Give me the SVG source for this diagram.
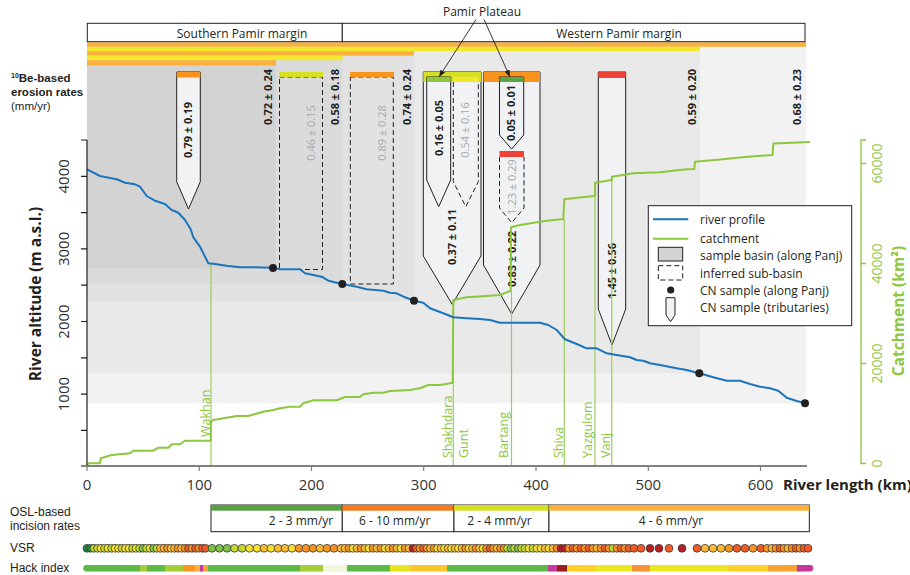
<svg xmlns="http://www.w3.org/2000/svg" width="910" height="575" viewBox="0 0 910 575">
<defs>
<style>
.os{font-family:"Open Sans","Noto Sans","Liberation Sans",sans-serif}
.ls{font-family:"Liberation Sans",Arial,sans-serif}
.num{font-family:"Open Sans","Liberation Sans",sans-serif;font-size:11px;font-weight:bold;fill:#231f20;text-anchor:middle}
.gnum{font-family:"Open Sans","Liberation Sans",sans-serif;font-size:11px;fill:#a7a9ac;text-anchor:middle}
.pen{fill:#f1f2f3;stroke:#231f20;stroke-width:1}
.dpen{fill:#f1f2f3;stroke:#231f20;stroke-width:1;stroke-dasharray:5 3}
.dbox{fill:none;stroke:#231f20;stroke-width:1;stroke-dasharray:5 3}
.trib{stroke:#9ccc5c;stroke-width:1.2;fill:none}
.tlab{font-family:"Open Sans","Noto Sans",sans-serif;font-size:12.5px;fill:#8dc63f}
.tick{font-family:"Open Sans","Noto Sans",sans-serif;font-size:15px;fill:#333;text-anchor:middle}
.gtick{font-family:"Open Sans","Noto Sans",sans-serif;font-size:14px;fill:#8dc63f;text-anchor:middle}
.leg{font-family:"Open Sans","Noto Sans",sans-serif;font-size:12px;fill:#231f20}
.osl{font-family:"Open Sans","Noto Sans",sans-serif;font-size:12px;fill:#231f20;text-anchor:middle}
.c1{fill:#1f8a3f}.c2{fill:#7dc242}.c3{fill:#c2d82e}.c4{fill:#f6e22b}.c5{fill:#fbb934}.c6{fill:#f7931e}.c7{fill:#f15a24}.c8{fill:#b71c27}
#vsr circle{r:3.9px;stroke:#3a3a3a;stroke-width:0.8}
</style>
<marker id="ah" viewBox="0 0 8 6" refX="8" refY="3" markerWidth="7" markerHeight="5.5" markerUnits="userSpaceOnUse" orient="auto">
<path d="M0,0 L8,3 L0,6 z" fill="#231f20"/>
</marker>
</defs>
<rect width="910" height="575" fill="#ffffff"/>

<!-- sample basins (along Panj) -->
<g id="basin5"><rect x="87" y="46.8" width="719" height="356.5" fill="#f2f2f2"/><rect x="87" y="42.3" width="719" height="4.5" fill="#fbb03b"/></g>
<g id="basin4"><rect x="87" y="51.2" width="613" height="322" fill="#e9e9e9"/><rect x="87" y="46.8" width="613" height="4.4" fill="#f3e82b"/></g>
<g id="basin3"><rect x="87" y="55.7" width="327" height="245" fill="#e2e2e2"/><rect x="87" y="51.2" width="327" height="4.5" fill="#fbb03b"/></g>
<g id="basin2"><rect x="87" y="60.2" width="255.5" height="224" fill="#dbdbdb"/><rect x="87" y="55.7" width="255.5" height="4.5" fill="#f3e82b"/></g>
<g id="basin1"><rect x="87" y="65.5" width="189" height="203" fill="#d3d3d3"/><rect x="87" y="60.2" width="189" height="5.3" fill="#fbb03b"/></g>

<!-- header -->
<g id="southern-margin"><rect x="87.3" y="23.3" width="255" height="18.4" fill="#fff" stroke="#231f20" stroke-width="1"/><text class="os" x="242" y="37.5" font-size="12" fill="#231f20" text-anchor="middle">Southern Pamir margin</text></g>
<g id="western-margin"><rect x="342.3" y="23.3" width="462.7" height="18.4" fill="#fff" stroke="#231f20" stroke-width="1"/><text class="os" x="619" y="37.5" font-size="12" fill="#231f20" text-anchor="middle">Western Pamir margin</text></g>

<!-- left header label -->
<g id="be-label" class="ls" fill="#231f20" font-size="11.5">
<text x="11" y="82" font-weight="bold"><tspan font-size="7" dy="-4">10</tspan><tspan dy="4">Be-based</tspan></text>
<text x="11" y="96" font-weight="bold">erosion rates</text>
<text x="11" y="110">(mm/yr)</text>
</g>

<!-- inferred sub-basins -->
<g id="sub-046"><rect x="279.5" y="77" width="43" height="192.5" class="dbox"/><rect x="279" y="72" width="44" height="5" fill="#d7df23"/><text class="gnum" transform="translate(311,133) rotate(-90)" dy="0.35em">0.46 ± 0.15</text></g>
<g id="sub-089"><rect x="350.3" y="77" width="43" height="207" class="dbox"/><rect x="350" y="72" width="44" height="5" fill="#f7941d"/><text class="gnum" transform="translate(382,133) rotate(-90)" dy="0.35em">0.89 ± 0.28</text></g>

<!-- basin value labels -->
<g id="basin-labels">
<text class="num" transform="translate(268,97) rotate(-90)" dy="0.35em">0.72 ± 0.24</text>
<text class="num" transform="translate(335.5,97) rotate(-90)" dy="0.35em">0.58 ± 0.18</text>
<text class="num" transform="translate(407.5,97) rotate(-90)" dy="0.35em">0.74 ± 0.24</text>
<text class="num" transform="translate(692,97) rotate(-90)" dy="0.35em">0.59 ± 0.20</text>
<text class="num" transform="translate(796.7,97) rotate(-90)" dy="0.35em">0.68 ± 0.23</text>
</g>

<!-- tributary samples -->
<g id="trib-079"><path class="pen" d="M176.7,72 V181.7 L188.5,209 L200.3,181.7 V72 Z"/><rect x="176.7" y="72" width="23.6" height="5.5" fill="#f7941d"/><text class="num" transform="translate(188.5,130) rotate(-90)" dy="0.35em">0.79 ± 0.19</text></g>

<g id="trib-shakhdara"><path class="pen" d="M423.3,72 V256 L452.2,304.3 L481,256 V72 Z"/><rect x="423.3" y="72" width="57.7" height="10" fill="#d7df23"/>
<text class="num" transform="translate(452.3,237) rotate(-90)" dy="0.35em">0.37 ± 0.11</text></g>
<g id="trib-016"><path class="pen" d="M426.7,77 V180 L438.7,206.7 L450.7,180 V77 Z"/><rect x="426.7" y="77" width="24" height="5" fill="#8dc63f"/><text class="num" transform="translate(438.7,128) rotate(-90)" dy="0.35em">0.16 ± 0.05</text></g>
<g id="trib-054"><path class="dpen" d="M453.3,82 V181.7 L465.8,206.7 L478.3,181.7 V82"/><rect x="453.3" y="77" width="25" height="5" fill="#f2e82b"/><text class="gnum" transform="translate(465.5,130) rotate(-90)" dy="0.35em">0.54 ± 0.16</text></g>

<g id="trib-bartang"><path class="pen" d="M483.5,72 V265 L511.7,314 L540,265 V72 Z"/><rect x="483.5" y="72" width="56.5" height="10" fill="#f7941d"/>
<text class="num" transform="translate(511.7,259) rotate(-90)" dy="0.35em">0.83 ± 0.22</text></g>
<g id="trib-005"><path class="pen" d="M499.5,77 V135 L511.6,149 L523.7,135 V77 Z"/><rect x="499.5" y="77" width="24.2" height="5" fill="#57a547"/><text class="num" transform="translate(511.6,113) rotate(-90)" dy="0.35em">0.05 ± 0.01</text></g>
<g id="trib-123"><path class="dpen" d="M499.5,157 V208 L511.7,222.7 L524,208 V157"/><rect x="499.5" y="151" width="24.5" height="6" fill="#ef4136"/><text class="gnum" transform="translate(511.7,187) rotate(-90)" dy="0.35em">1.23 ± 0.29</text></g>

<g id="trib-vanj"><path class="pen" d="M598.3,72 V309 L612,345 L625.7,309 V72 Z"/><rect x="598.3" y="72" width="27.4" height="6" fill="#ef4136"/><text class="num" transform="translate(612,271) rotate(-90)" dy="0.35em">1.45 ± 0.56</text></g>

<!-- Pamir Plateau -->
<g id="pamir-plateau"><text class="os" x="482" y="15.5" font-size="12" fill="#231f20" text-anchor="middle">Pamir Plateau</text></g>

<!-- connectors -->
<g id="connectors">
<line x1="476" y1="19.5" x2="439" y2="77" stroke="#231f20" stroke-width="0.9" marker-end="url(#ah)"/>
<line x1="484" y1="19.5" x2="510" y2="77" stroke="#231f20" stroke-width="0.9" marker-end="url(#ah)"/>
</g>

<!-- tributary lines -->
<g id="tributaries">
<line class="trib" x1="211" y1="465" x2="211" y2="263.5"/>
<line class="trib" x1="453.3" y1="465" x2="453.3" y2="300"/>
<line class="trib" x1="511.5" y1="465" x2="511.5" y2="290"/>
<line class="trib" x1="564.3" y1="465" x2="564.3" y2="219"/>
<line class="trib" x1="595" y1="465" x2="595" y2="196"/>
<line class="trib" x1="611.8" y1="465" x2="611.8" y2="180"/>
<text class="tlab" transform="translate(210,437) rotate(-90)">Wakhan</text>
<text class="tlab" transform="translate(451.5,458) rotate(-90)">Shakhdara</text>
<text class="tlab" transform="translate(468,458) rotate(-90)">Gunt</text>
<text class="tlab" transform="translate(507.5,458) rotate(-90)">Bartang</text>
<text class="tlab" transform="translate(563,458) rotate(-90)">Shiva</text>
<text class="tlab" transform="translate(591.5,458) rotate(-90)">Yazgulom</text>
<text class="tlab" transform="translate(609.5,458) rotate(-90)">Vanj</text>
</g>

<!-- catchment -->
<g id="catchment"><path fill="none" stroke="#8dc63f" stroke-width="2" stroke-linejoin="round" d="M86.7,465 L89,463.3 L100,463.3 L100.7,458.3 L111.7,455 L130,453.3 L133.3,450.7 L153.3,450.7 L158.3,447.7 L168.3,447.7 L171.7,444.3 L180,444.3 L185,440.7 L210.7,440.7 L211,421.7 L213.3,420 L236.7,416 L248.3,416 L263.3,411.7 L273.3,410 L280,408.3 L290,406.7 L300,406.7 L303.3,403.3 L313.3,400.3 L336.7,400.3 L345,397 L360,397 L363.3,394.3 L373.3,392.7 L383.3,392.7 L390,391 L410,390 L420,388.3 L428.3,385 L440,385 L452.7,382.7 L453.3,300 L466.7,297.3 L486.7,296 L500,295 L510.7,290.7 L511,227.3 L520,225 L540,221.7 L546.7,220.7 L563.3,219 L564.3,199.3 L576.7,197.7 L595,196 L595,182.7 L611.7,180 L612,176.7 L633.3,173.3 L660,172.3 L686.7,169.3 L694.3,169 L695,161.7 L720,159.5 L745,157 L772.5,155 L773.3,143.5 L810,142"/></g>

<!-- river profile -->
<g id="river-profile"><path fill="none" stroke="#1c75bc" stroke-width="2" stroke-linejoin="round" d="M87,169.3 L100,176 L116.7,179.3 L125,182.7 L135,184.3 L140,186.7 L146.7,196 L155,200.7 L165,204 L171.7,210 L178.3,212.7 L185,220 L190.7,229.3 L193.3,237.3 L200,246.7 L208.3,263.3 L213.3,263.7 L226.7,265.7 L240,267.3 L253.3,267.3 L272.7,267.7 L280,269.3 L300,269.3 L305,273.3 L313.3,275 L321.7,276.7 L328.3,280.7 L342.3,284 L356.7,286.7 L366.7,289.3 L383.3,290.7 L390,292.7 L396.7,293.3 L405,297.3 L414,300.7 L423.3,302.7 L430,308.3 L443.3,313.3 L453.3,317.3 L466.7,318.3 L480,319 L490,320 L500,322.7 L540,322.7 L548.3,325 L556.7,330 L565,339.3 L576.7,344 L586.7,348.3 L596.7,348.3 L606.7,353.3 L616.7,355 L630,357.3 L636.7,360 L643.3,360.7 L650,363.3 L660,365 L676.7,368.3 L686.7,370 L699.3,373.3 L713.3,377.3 L726.7,380.7 L740,380.7 L750,384 L760,386.7 L770,388.3 L778.3,390.7 L786.7,397.7 L796.7,401 L805,403"/></g>

<g id="cn-samples" fill="#231f20">
<circle cx="273" cy="268" r="4"/><circle cx="342.3" cy="284" r="4"/><circle cx="414" cy="300.7" r="4"/><circle cx="699.3" cy="373.3" r="4"/><circle cx="805" cy="403.3" r="4"/>
</g>

<!-- axes -->
<g id="left-axis" stroke="#231f20" stroke-width="1.2">
<line x1="87" y1="140" x2="87" y2="466"/>
<path d="M81,140H87M81,176.3H87M81,212.6H87M81,248.9H87M81,285.2H87M81,321.5H87M81,357.8H87M81,394.1H87M81,430.4H87"/>
</g>
<g id="left-labels">
<text class="tick" transform="translate(64,394.1) rotate(-90)" dy="0.35em">1000</text>
<text class="tick" transform="translate(64,321.5) rotate(-90)" dy="0.35em">2000</text>
<text class="tick" transform="translate(64,248.9) rotate(-90)" dy="0.35em">3000</text>
<text class="tick" transform="translate(64,176.3) rotate(-90)" dy="0.35em">4000</text>
<text class="os" transform="translate(41,294) rotate(-90)" font-size="15.5" font-weight="bold" fill="#231f20" text-anchor="middle">River altitude (m a.s.l.)</text>
</g>
<g id="bottom-axis">
<line x1="81" y1="466" x2="807" y2="466" stroke="#808080" stroke-width="1.8"/>
<path d="M87,466V471M199.3,466V471M311.5,466V471M423.7,466V471M536,466V471M648.3,466V471M760.5,466V471" stroke="#808080" stroke-width="1.2"/>
<text class="tick" x="87" y="490">0</text><text class="tick" x="199.3" y="490">100</text><text class="tick" x="311.5" y="490">200</text><text class="tick" x="423.7" y="490">300</text><text class="tick" x="536" y="490">400</text><text class="tick" x="648.3" y="490">500</text><text class="tick" x="760.5" y="490">600</text>
<text class="os" x="783" y="490" font-size="15" font-weight="bold" fill="#231f20">River length (km)</text>
</g>
<g id="right-axis">
<path d="M866,140H861V463.5H866M861,363.5H866M861,263.5H866M861,163.5H866" fill="none" stroke="#8dc63f" stroke-width="1.3"/>
<text class="gtick" transform="translate(877,463.5) rotate(-90)" dy="0.35em">0</text>
<text class="gtick" transform="translate(877,363.5) rotate(-90)" dy="0.35em">20000</text>
<text class="gtick" transform="translate(877,263.5) rotate(-90)" dy="0.35em">40000</text>
<text class="gtick" transform="translate(877,163.5) rotate(-90)" dy="0.35em">60000</text>
<text class="os" transform="translate(904,311) rotate(-90)" font-size="15.5" font-weight="bold" fill="#8dc63f" text-anchor="middle">Catchment (km²)</text>
</g>

<!-- legend -->
<g id="legend">
<rect x="648.3" y="205.7" width="203.4" height="120" fill="#fff" stroke="#231f20" stroke-width="1"/>
<line x1="653" y1="219.3" x2="688.3" y2="219.3" stroke="#1c75bc" stroke-width="2"/>
<line x1="653" y1="238.7" x2="688.3" y2="238.7" stroke="#8dc63f" stroke-width="2"/>
<rect x="658.3" y="247.3" width="24.4" height="13.7" fill="#d3d3d3" stroke="#231f20" stroke-width="1"/>
<rect x="658.3" y="265.7" width="24.4" height="14.3" class="dbox"/>
<circle cx="670.7" cy="290" r="3.6" fill="#231f20"/>
<path class="pen" d="M666,297.7 V315 L670.5,321.7 L675,315 V297.7 Z"/>
<text class="leg" x="700" y="224">river profile</text>
<text class="leg" x="700" y="243">catchment</text>
<text class="leg" x="700" y="260">sample basin (along Panj)</text>
<text class="leg" x="700" y="278">inferred sub-basin</text>
<text class="leg" x="700" y="295">CN sample (along Panj)</text>
<text class="leg" x="700" y="312">CN sample (tributaries)</text>
</g>

<!-- OSL incision rates -->
<g id="osl-label" class="ls" font-size="12" fill="#231f20"><text x="10" y="516">OSL-based</text><text x="10" y="529.5">incision rates</text></g>
<g id="osl-23"><rect x="211" y="505" width="131.3" height="26.7" fill="#fff" stroke="#231f20"/><rect x="211" y="505" width="131.3" height="5.7" fill="#58a143"/><text class="osl" x="301" y="525">2 - 3 mm/yr</text></g>
<g id="osl-610"><rect x="342.3" y="505" width="111.7" height="26.7" fill="#fff" stroke="#231f20"/><rect x="342.3" y="505" width="111.7" height="5.7" fill="#f47920"/><text class="osl" x="394.7" y="525">6 - 10 mm/yr</text></g>
<g id="osl-24"><rect x="454" y="505" width="95" height="26.7" fill="#fff" stroke="#231f20"/><rect x="454" y="505" width="95" height="5.7" fill="#d7df23"/><text class="osl" x="499.5" y="525">2 - 4 mm/yr</text></g>
<g id="osl-46"><rect x="549" y="505" width="260.3" height="26.7" fill="#fff" stroke="#231f20"/><rect x="549" y="505" width="260.3" height="5.7" fill="#fbb03b"/><text class="osl" x="671" y="525">4 - 6 mm/yr</text></g>

<!-- VSR -->
<text class="ls" x="10" y="552" font-size="12" fill="#231f20">VSR</text>
<g id="vsr" transform="translate(0,548.3)">
<circle class="c1" cx="87"/><circle class="c1" cx="90.5"/><circle class="c3" cx="94"/><circle class="c3" cx="97.5"/><circle class="c4" cx="101"/><circle class="c3" cx="104.5"/><circle class="c4" cx="108"/><circle class="c3" cx="111.5"/><circle class="c4" cx="115"/><circle class="c4" cx="118.5"/><circle class="c3" cx="122"/><circle class="c4" cx="125.5"/><circle class="c4" cx="129"/><circle class="c3" cx="132.5"/><circle class="c4" cx="136"/><circle class="c3" cx="139.5"/><circle class="c2" cx="143"/><circle class="c3" cx="146.5"/><circle class="c4" cx="150"/><circle class="c2" cx="153.5"/><circle class="c3" cx="157"/><circle class="c5" cx="160.5"/><circle class="c5" cx="164"/><circle class="c6" cx="167.5"/><circle class="c5" cx="171"/><circle class="c5" cx="174.5"/><circle class="c6" cx="178"/><circle class="c5" cx="181.5"/><circle class="c6" cx="185"/><circle class="c7" cx="188.5"/><circle class="c6" cx="192"/><circle class="c7" cx="195.5"/><circle class="c6" cx="199"/><circle class="c7" cx="202.5"/><circle class="c7" cx="205.5"/>
<circle class="c2" cx="212"/><circle class="c2" cx="219.5"/><circle class="c2" cx="227"/><circle class="c3" cx="234.5"/><circle class="c3" cx="242"/><circle class="c4" cx="249.5"/><circle class="c4" cx="257"/><circle class="c5" cx="264"/><circle class="c4" cx="271"/><circle class="c5" cx="278"/><circle class="c5" cx="285"/><circle class="c4" cx="292"/><circle class="c6" cx="299"/><circle class="c6" cx="306"/><circle class="c6" cx="313"/><circle class="c5" cx="320"/><circle class="c6" cx="327"/><circle class="c6" cx="334"/><circle class="c5" cx="341"/>
<circle class="c5" cx="345"/><circle class="c6" cx="349"/><circle class="c4" cx="353"/><circle class="c5" cx="357"/><circle class="c6" cx="361"/><circle class="c5" cx="365"/><circle class="c4" cx="369"/><circle class="c6" cx="373"/><circle class="c5" cx="377"/><circle class="c6" cx="381"/><circle class="c4" cx="385"/><circle class="c5" cx="389"/><circle class="c6" cx="393"/><circle class="c5" cx="397"/><circle class="c4" cx="401"/><circle class="c6" cx="405"/><circle class="c5" cx="409"/>
<circle class="c8" cx="413"/><circle class="c7" cx="416.5"/><circle class="c6" cx="420"/><circle class="c7" cx="423.5"/><circle class="c6" cx="427"/><circle class="c5" cx="430.5"/><circle class="c6" cx="434"/><circle class="c4" cx="437.5"/><circle class="c5" cx="441"/><circle class="c4" cx="444.5"/><circle class="c5" cx="448"/><circle class="c4" cx="451.5"/><circle class="c5" cx="455"/><circle class="c4" cx="458.5"/><circle class="c5" cx="462"/><circle class="c6" cx="465.5"/><circle class="c4" cx="469"/><circle class="c5" cx="472.5"/><circle class="c6" cx="476"/><circle class="c5" cx="479.5"/><circle class="c4" cx="483"/><circle class="c6" cx="486.5"/><circle class="c7" cx="490"/><circle class="c6" cx="493.5"/><circle class="c5" cx="497"/><circle class="c6" cx="500.5"/><circle class="c6" cx="504"/>
<circle class="c3" cx="507.5"/><circle class="c2" cx="511"/><circle class="c3" cx="514.5"/><circle class="c2" cx="518"/><circle class="c3" cx="521.5"/><circle class="c3" cx="525"/><circle class="c4" cx="529"/><circle class="c3" cx="533"/><circle class="c4" cx="537"/><circle class="c4" cx="541"/><circle class="c5" cx="545"/><circle class="c4" cx="549"/><circle class="c5" cx="553"/><circle class="c6" cx="557"/><circle class="c8" cx="561"/><circle class="c8" cx="565"/>
<circle class="c6" cx="569"/><circle class="c7" cx="573"/><circle class="c6" cx="577"/><circle class="c7" cx="581"/><circle class="c6" cx="585"/><circle class="c7" cx="589"/><circle class="c6" cx="593"/><circle class="c5" cx="597"/><circle class="c6" cx="601"/><circle class="c7" cx="605"/><circle class="c6" cx="609"/><circle class="c3" cx="613"/><circle class="c6" cx="617"/><circle class="c7" cx="621"/><circle class="c6" cx="625"/><circle class="c7" cx="629"/>
<circle class="c7" cx="634"/><circle class="c7" cx="641"/><circle class="c8" cx="650"/><circle class="c8" cx="659"/><circle class="c7" cx="669"/><circle class="c8" cx="682"/>
<circle class="c7" cx="697"/><circle class="c5" cx="705"/><circle class="c5" cx="713"/><circle class="c5" cx="721"/><circle class="c6" cx="729"/><circle class="c7" cx="737"/><circle class="c7" cx="745"/><circle class="c6" cx="753"/><circle class="c7" cx="761"/><circle class="c6" cx="767"/><circle class="c5" cx="772"/><circle class="c6" cx="776"/><circle class="c7" cx="780"/><circle class="c6" cx="784"/><circle class="c5" cx="788"/><circle class="c6" cx="792"/><circle class="c7" cx="796"/><circle class="c6" cx="800"/><circle class="c7" cx="804"/><circle class="c7" cx="808"/>
</g>

<!-- Hack index -->
<text class="ls" x="10" y="572" font-size="12" fill="#231f20">Hack index</text>
<g id="hack" stroke-width="6.5" fill="none">
<path d="M86.5,568.3H140" stroke="#5cb946" stroke-linecap="round"/>
<path d="M140,568.3H147" stroke="#a4cd39"/>
<path d="M147,568.3H165" stroke="#5cb946"/>
<path d="M165,568.3H183" stroke="#a4cd39"/>
<path d="M183,568.3H195" stroke="#f7941d"/>
<path d="M195,568.3H200" stroke="#fbb040"/>
<path d="M200,568.3H203" stroke="#c6399a"/>
<path d="M203,568.3H208" stroke="#f9a13a"/>
<path d="M208,568.3H300" stroke="#5cb946"/>
<path d="M300,568.3H323" stroke="#a4cd39"/>
<path d="M323,568.3H347" stroke="#f4f6dc"/>
<path d="M347,568.3H390" stroke="#5cb946"/>
<path d="M390,568.3H410" stroke="#e6e51f"/>
<path d="M410,568.3H447" stroke="#fcc62d"/>
<path d="M447,568.3H548" stroke="#5cb946"/>
<path d="M548,568.3H557" stroke="#c6399a"/>
<path d="M557,568.3H567" stroke="#9b1b1f"/>
<path d="M567,568.3H595" stroke="#fdd12a"/>
<path d="M595,568.3H632" stroke="#ebe720"/>
<path d="M632,568.3H650" stroke="#f7923a"/>
<path d="M650,568.3H728" stroke="#ebe720"/>
<path d="M728,568.3H768" stroke="#fdd12a"/>
<path d="M768,568.3H797" stroke="#f7a22f"/>
<path d="M800,568.3H810" stroke="#c6399a" stroke-linecap="round"/>
<path d="M797,568.3H801" stroke="#c6399a"/>
</g>
</svg>
